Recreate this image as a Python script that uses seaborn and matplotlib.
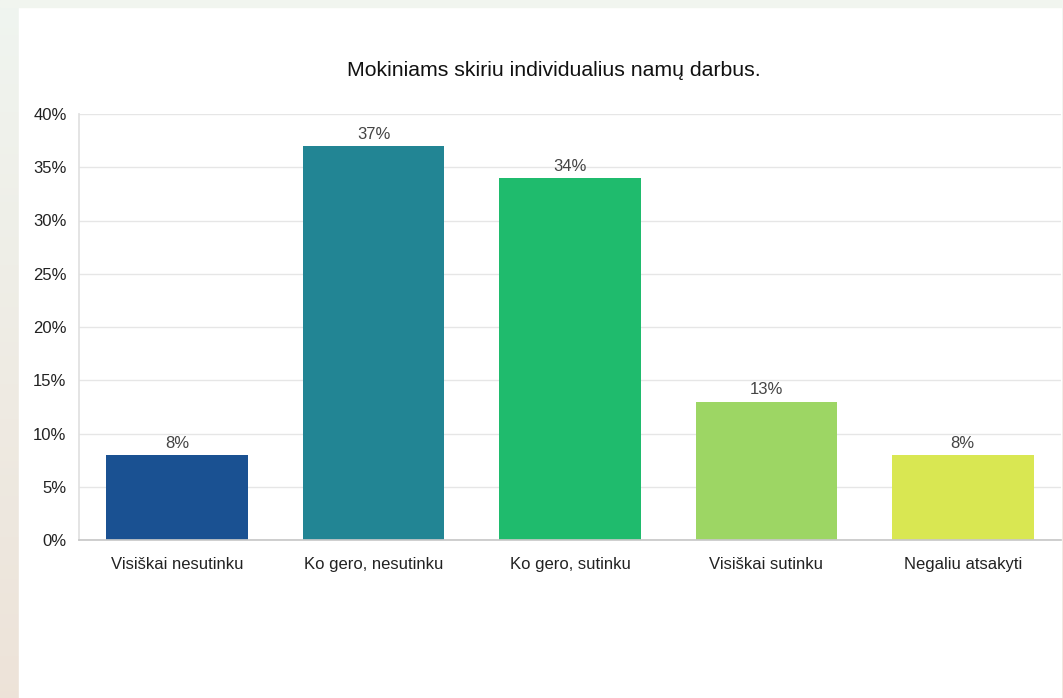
import numpy as np
import pandas as pd
import matplotlib
matplotlib.use("Agg")
import matplotlib.pyplot as plt
import seaborn as sns
from matplotlib.ticker import FuncFormatter

categories = ["Visiškai nesutinku", "Ko gero, nesutinku", "Ko gero, sutinku", "Visiškai sutinku", "Negaliu atsakyti"]
values = [8, 37, 34, 13, 8]
colors = ["#1a5192", "#228594", "#1fbb6d", "#9dd664", "#d9e752"]
title = "Mokiniams skiriu individualius namų darbus."

sns.set_theme(style="white")
plt.rcParams['font.family'] = ['Liberation Sans', 'DejaVu Sans']

W, H = 1063, 698
fig = plt.figure(figsize=(W / 100, H / 100), dpi=100)
fig.patch.set_facecolor("#f3f6f0")

# background gradient strip on left
bg = fig.add_axes([0, 0, 1, 1], zorder=-10)
grad = np.linspace(0, 1, 100)[:, None]
c_top = np.array([0.94, 0.96, 0.94])
c_bot = np.array([0.93, 0.89, 0.85])
img = c_top[None, None, :] * (1 - grad[:, :, None]) + c_bot[None, None, :] * grad[:, :, None]
bg.imshow(img, aspect="auto", extent=[0, 1, 0, 1])
bg.set_xlim(0, 1); bg.set_ylim(0, 1)
bg.axis("off")
bg.add_patch(plt.Rectangle((19 / W, 0), (1061 - 19) / W, 1 - 7 / H, color="white", zorder=2))
bg.add_patch(plt.Rectangle((0, 1 - 7 / H), 1, 7 / H, color="#f1f5ef", zorder=2))

ax = fig.add_axes([79 / W, 1 - 540 / H, (1061 - 79) / W, (540 - 114) / H])
ax.set_facecolor("none")
df = pd.DataFrame({"cat": categories, "val": values})
sns.barplot(data=df, x="cat", y="val", hue="cat", palette=colors, legend=False,
            width=0.72, ax=ax, saturation=1, edgecolor="none")

ax.set_ylim(0, 40)
ax.set_xlim(-0.5, 4.5)
ax.set_yticks(range(0, 41, 5))
ax.yaxis.set_major_formatter(FuncFormatter(lambda v, _: f"{int(v)}%"))
ax.grid(axis="y", color="#e6e6e6", linewidth=1)
ax.set_axisbelow(True)
ax.set_xlabel("")
ax.set_ylabel("")
for s in ["top", "right"]:
    ax.spines[s].set_visible(False)
ax.spines["left"].set_color("#e0e0e0")
ax.spines["bottom"].set_color("#c8c8c8")
ax.tick_params(axis="y", labelsize=12, colors="#222222", length=0, pad=9)
ax.tick_params(axis="x", labelsize=12, colors="#222222", length=0, pad=12)

for i, v in enumerate(values):
    ax.annotate(f"{v}%", (i, v), xytext=(0, 3), textcoords="offset points",
                ha="center", va="bottom", fontsize=12, color="#444444")

fig.text(554 / W, 1 - 70 / H, title, ha="center", va="center",
         fontsize=15.3, color="#111111")

fig.savefig("out.png", dpi=100)
